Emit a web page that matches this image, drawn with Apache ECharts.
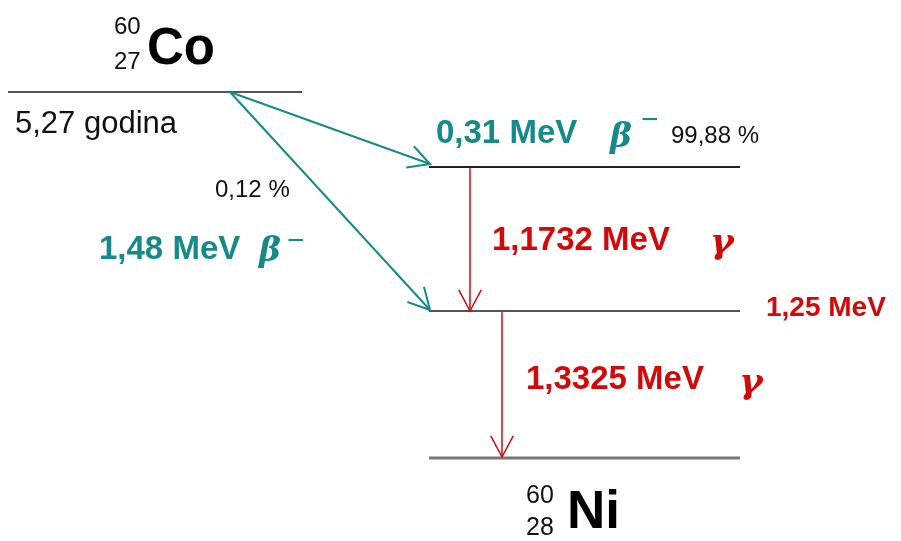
<!DOCTYPE html>
<html>
<head>
<meta charset="utf-8">
<script src="https://cdn.jsdelivr.net/npm/echarts@6/dist/echarts.min.js"></script>
<style>html,body{margin:0;padding:0;background:#fff}#c{width:901px;height:541px}</style>
</head>
<body>
<div id="c"></div>
<script>
// ---- data (schematic diagram units: x/y in diagram space, y downwards) ----
const levelNames = ['60Co', '60Ni* 2,505 MeV', '60Ni* 1,3325 MeV', '60Ni ground'];
const levelX0 = [8, 429, 429, 429];
const levelX1 = [302, 740, 740, 740];
const levelY  = [92, 167, 311, 458];

const transitionNames = ['β− 0,31 MeV', 'β− 1,48 MeV', 'γ 1,1732 MeV', 'γ 1,3325 MeV'];
const transFromX = [230, 230, 470, 502];
const transFromY = [92, 92, 168, 312];
const transToX   = [430, 430, 470, 502];
const transToY   = [164, 310, 311, 457];
const transKind  = ['beta', 'beta', 'gamma', 'gamma'];

const labelTexts = ['60', '27', 'Co', '5,27 godina', '0,12 %', '1,48 MeV', 'β', '−',
                    '0,31 MeV', 'β', '−', '99,88 %', '1,1732 MeV', 'γ', '1,25 MeV',
                    '1,3325 MeV', 'γ', '60', '28', 'Ni'];
const labelX = [114, 114, 147, 15, 215, 99, 259, 287,
                436, 610, 641, 671, 492, 710, 766,
                526, 739, 526, 526, 567];
const labelY = [27, 62, 50, 124, 190, 250, 252, 242,
                134, 138, 121, 136, 241, 244, 308,
                380, 384, 496, 528, 513];
const labelKind = ['iso', 'iso', 'sym', 'note', 'pct', 'betaE', 'greekB', 'minusB',
                   'betaE', 'greekB', 'minusB', 'pct', 'gammaE', 'greekG', 'lvlE',
                   'gammaE', 'greekG', 'iso2', 'iso2', 'sym2'];

// ---- styles ----
const SANS = '"Liberation Sans", Arial, sans-serif';
const SERIF = '"DejaVu Serif", "Liberation Serif", serif';
const TEAL = '#16898b';
const RED = '#d00a0a';
const textStyles = {
  iso:   { font: '24px ' + SANS, fill: '#111' },
  iso2:  { font: '25px ' + SANS, fill: '#111' },
  sym:   { font: 'bold 51px ' + SANS, fill: '#000' },
  sym2:  { font: 'bold 53px ' + SANS, fill: '#000' },
  note:  { font: '31px ' + SANS, fill: '#111' },
  pct:   { font: '24px ' + SANS, fill: '#111' },
  betaE: { font: 'bold 33px ' + SANS, fill: TEAL },
  gammaE:{ font: 'bold 33px ' + SANS, fill: RED },
  lvlE:  { font: 'bold 28px ' + SANS, fill: RED },
  greekB:{ font: 'italic bold 33px ' + SERIF, fill: TEAL },
  minusB:{ font: '30px ' + SANS, fill: TEAL },
  greekG:{ font: 'italic bold 36px ' + SERIF, fill: RED }
};
const levelStyles = [
  { stroke: '#555', lineWidth: 2 },
  { stroke: '#222', lineWidth: 2 },
  { stroke: '#555', lineWidth: 2 },
  { stroke: '#777', lineWidth: 3 }
];
const arrowStyles = {
  beta:  { stroke: TEAL, lineWidth: 2 },
  gamma: { stroke: RED, lineWidth: 1.5 }
};

const chart = echarts.init(document.getElementById('c'), null, { renderer: 'canvas' });

const option = {
  animation: false,
  backgroundColor: '#fff',
  grid: { left: 0, right: 0, top: 0, bottom: 0 },
  xAxis: { type: 'value', min: 0, max: 901, show: false },
  yAxis: { type: 'value', min: 0, max: 541, inverse: true, show: false },
  series: [
    {
      name: 'levels',
      type: 'custom',
      data: levelNames.map((n, i) => [levelX0[i], levelX1[i], levelY[i]]),
      encode: { x: [0, 1], y: 2 },
      renderItem: function (params, api) {
        const a = api.coord([api.value(0), api.value(2)]);
        const b = api.coord([api.value(1), api.value(2)]);
        return {
          type: 'line',
          shape: { x1: a[0], y1: a[1], x2: b[0], y2: b[1] },
          style: levelStyles[params.dataIndex]
        };
      }
    },
    {
      name: 'transitions',
      type: 'custom',
      data: transitionNames.map((n, i) => [transFromX[i], transFromY[i], transToX[i], transToY[i]]),
      encode: { x: [0, 2], y: [1, 3] },
      renderItem: function (params, api) {
        const p0 = api.coord([api.value(0), api.value(1)]);
        const p1 = api.coord([api.value(2), api.value(3)]);
        const dx = p1[0] - p0[0], dy = p1[1] - p0[1];
        const len = Math.sqrt(dx * dx + dy * dy);
        const ux = dx / len, uy = dy / len;
        const L = 24, ang = 28 * Math.PI / 180;
        const c = Math.cos(ang), s = Math.sin(ang);
        const h1 = [p1[0] - L * (ux * c - uy * s), p1[1] - L * (uy * c + ux * s)];
        const h2 = [p1[0] - L * (ux * c + uy * s), p1[1] - L * (uy * c - ux * s)];
        const st = arrowStyles[transKind[params.dataIndex]];
        return {
          type: 'group',
          children: [
            { type: 'line', shape: { x1: p0[0], y1: p0[1], x2: p1[0], y2: p1[1] }, style: st },
            { type: 'polyline', shape: { points: [h1, p1, h2] }, style: Object.assign({ fill: 'none' }, st) }
          ]
        };
      }
    },
    {
      name: 'labels',
      type: 'custom',
      data: labelTexts.map((t, i) => [labelX[i], labelY[i]]),
      encode: { x: 0, y: 1 },
      renderItem: function (params, api) {
        const p = api.coord([api.value(0), api.value(1)]);
        const st = textStyles[labelKind[params.dataIndex]];
        return {
          type: 'text',
          x: p[0], y: p[1],
          style: {
            text: labelTexts[params.dataIndex],
            font: st.font,
            fill: st.fill,
            align: 'left',
            verticalAlign: 'middle'
          }
        };
      }
    }
  ]
};
chart.setOption(option);
</script>
</body>
</html>
